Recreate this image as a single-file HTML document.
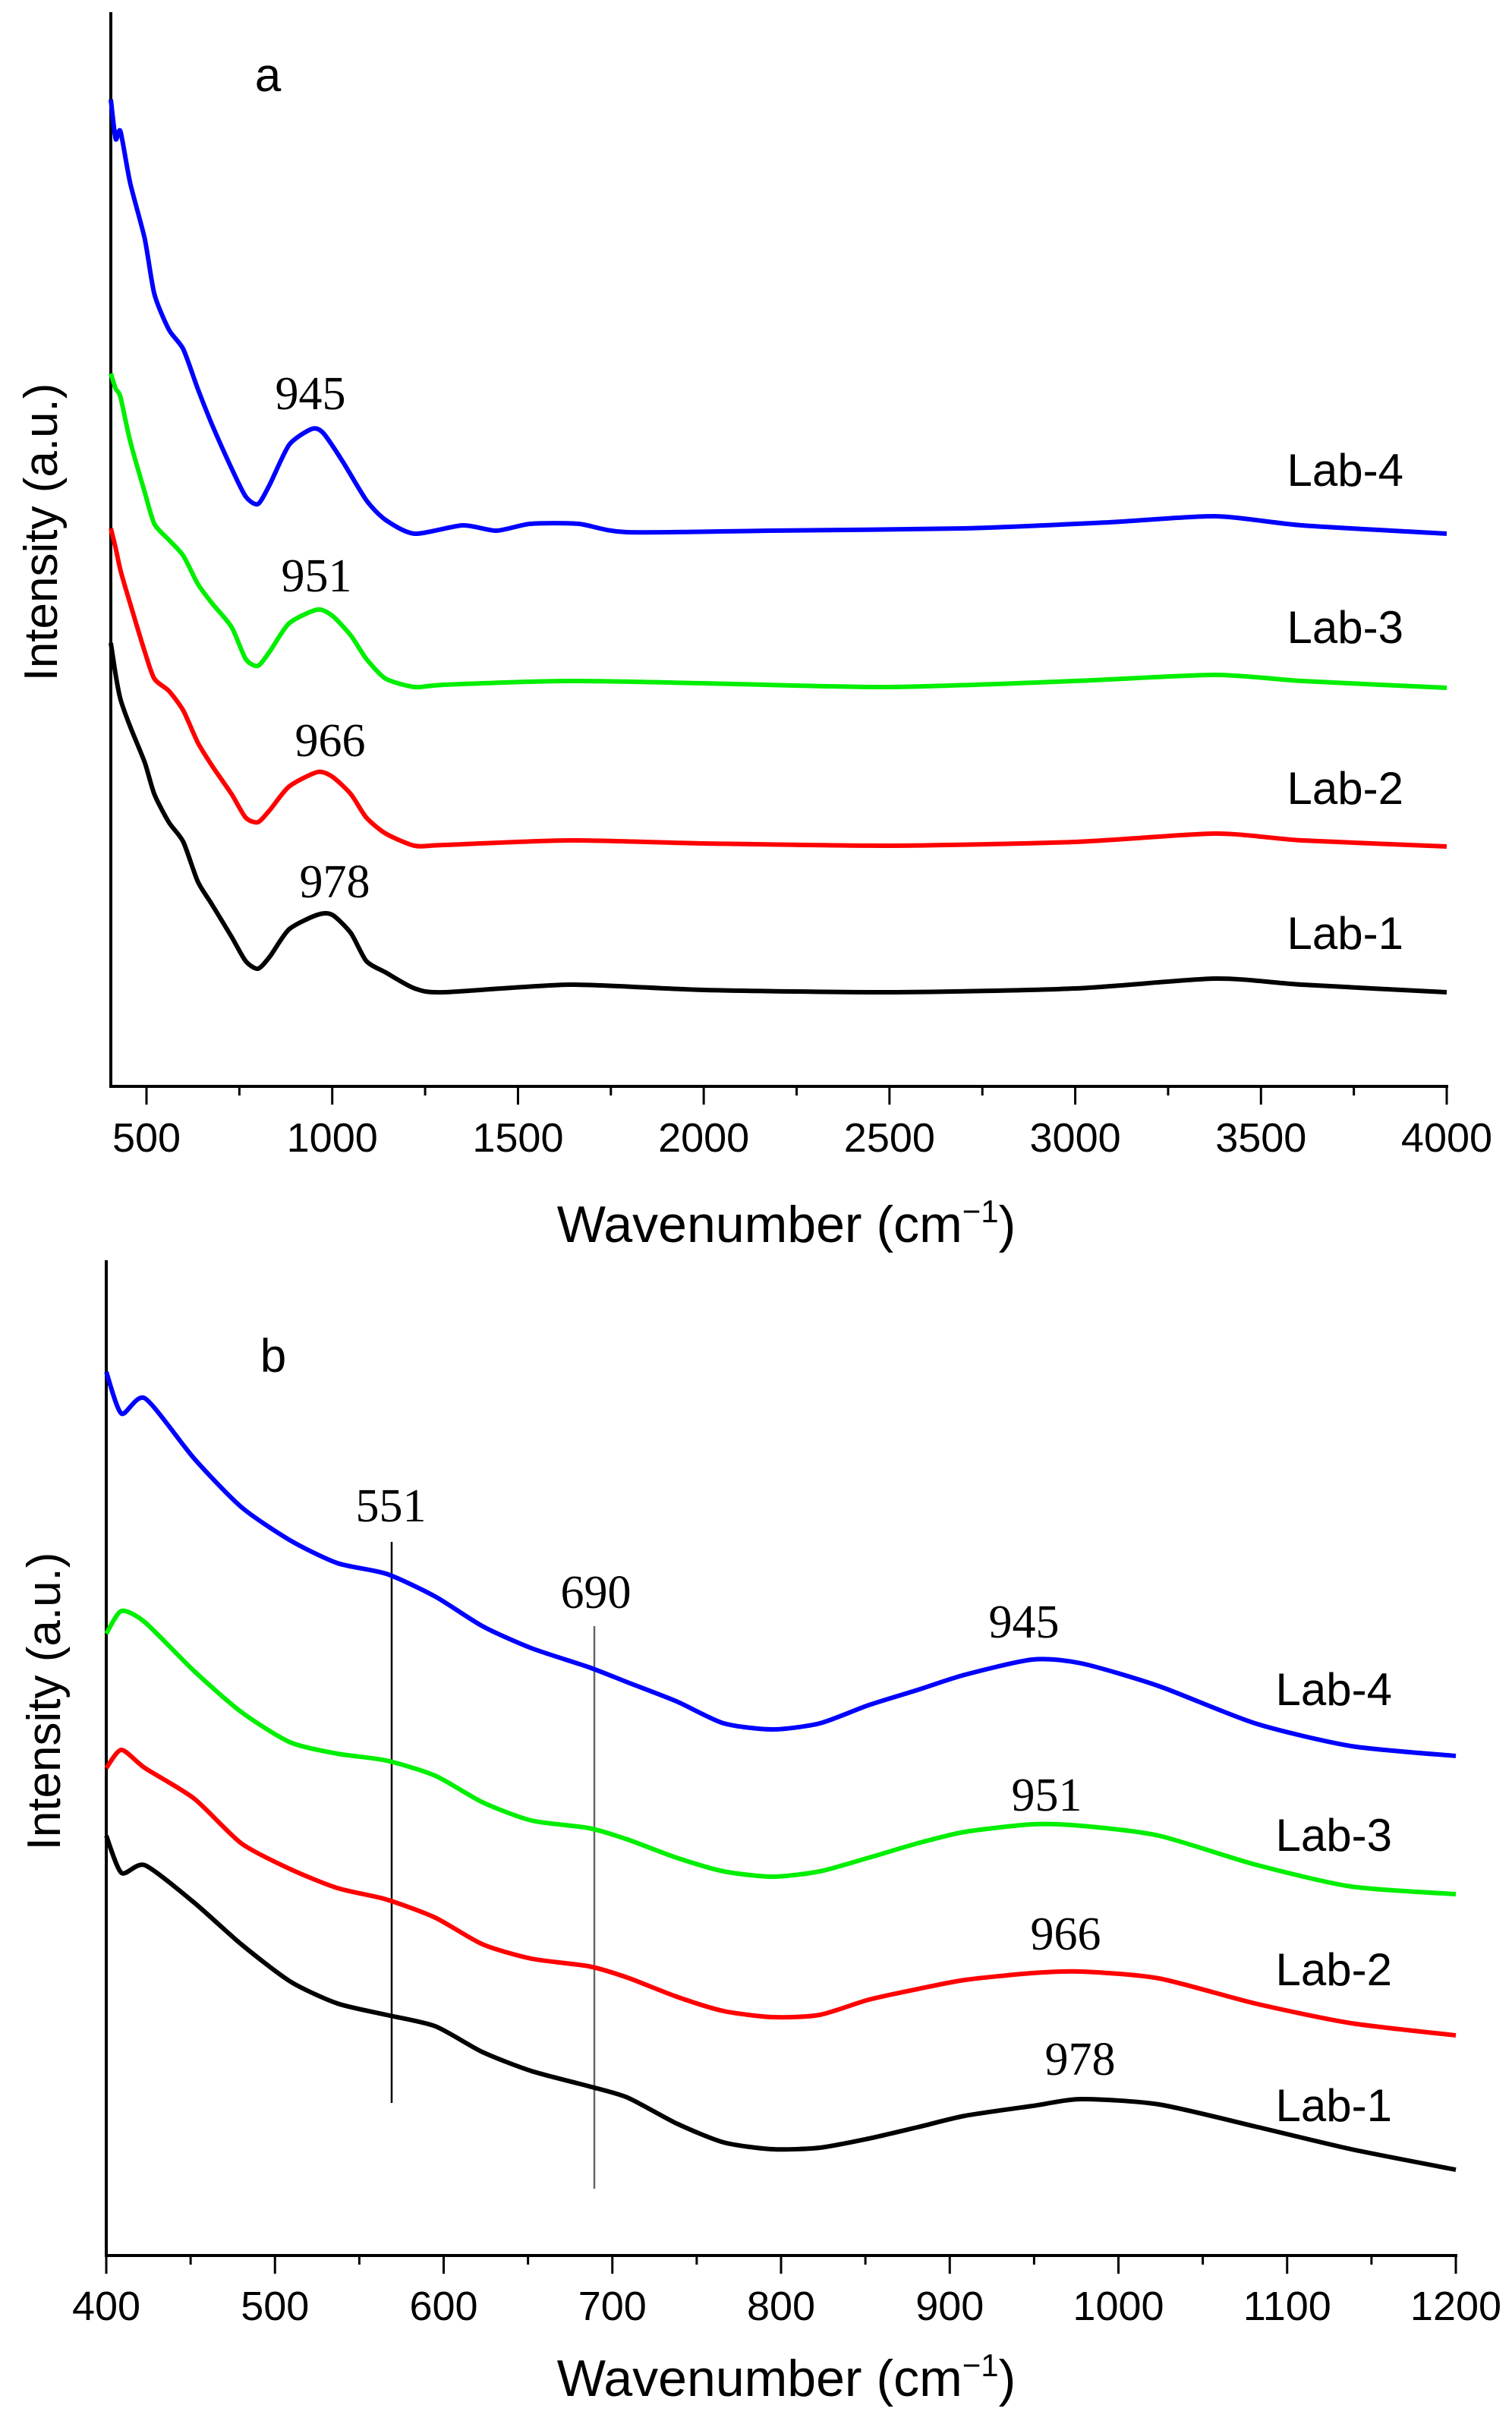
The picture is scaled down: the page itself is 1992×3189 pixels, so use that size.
<!DOCTYPE html>
<html><head><meta charset="utf-8"><style>
body{margin:0;background:#fff}
svg text{font-family:"Liberation Sans",Arial,sans-serif}
.serif{font-family:"Liberation Serif","Times New Roman",serif}
</style></head><body>
<svg id="fig" width="1992" height="3184" viewBox="0 0 1992 3184" xmlns="http://www.w3.org/2000/svg">
<rect width="1992" height="3184" fill="#fff"/>
<g id="chartA"></g>
<g id="chartB"></g>
</svg>
<script>
// ---- Panel a data ----
const aX = [404,417,430,456,495,521,560,599,638,677,729,767,800,832,884,945,975,1027,1092,1144,1222,1351,1442,1533,1663,1793,2182,2701,3091,3376,3610,4000];
const aLab4 = [130.0,124.8,125.8,119.0,111.7,104.4,99.7,97.1,91.9,87.1,81.4,77.7,76.7,79.3,84.5,86.6,86.1,82.4,77.2,74.6,72.8,73.9,73.2,74.1,74.1,73.0,73.2,73.5,74.3,75.1,73.9,72.8];
const aX2 = [404,417,430,456,495,521,560,599,638,677,729,767,800,832,884,960,1000,1050,1092,1144,1222,1300,1640,2000,2500,3000,3376,3610,4000];
const aLab3 = [93.9,91.9,90.8,85.0,78.3,74.1,72.0,69.9,66.2,63.6,60.5,56.3,55.4,57.3,61.0,62.8,62.0,59.4,56.3,53.7,52.6,52.9,53.4,53.1,52.6,53.4,54.2,53.4,52.5];
const aLab2 = [73.5,70.9,68.0,63.6,57.3,53.7,52.1,49.5,45.3,42.2,38.5,35.4,34.8,36.4,39.5,41.4,40.8,38.5,35.4,33.3,31.7,31.8,32.4,32.0,31.7,32.2,33.3,32.4,31.6];
const aLab1 = [58.4,54.2,51.0,47.4,42.7,38.5,34.8,32.2,27.0,23.9,19.7,16.5,15.5,17.1,20.7,22.6,22.6,20.2,16.5,15.0,12.9,12.4,13.4,12.7,12.4,12.9,14.2,13.4,12.4];
const aTicks = [500,1000,1500,2000,2500,3000,3500,4000];
const aPeaks = ["945","951","966","978"];
// ---- Panel b data ----
const bX = [400,409,423,452,480,509,537,566,595,623,652,686,709,738,766,795,823,852,881,909,949,978,1024,1081,1138,1200];
const bLab4 = [116.4,110.9,112.9,105.0,98.6,94.2,91.2,89.8,86.8,82.9,80.0,77.5,75.5,73.0,70.1,69.3,70.1,72.5,74.5,76.5,78.5,78.0,75.0,70.1,67.1,65.8];
const bLab3 = [81.9,84.9,83.4,77.0,71.6,67.6,66.1,65.2,63.2,59.7,57.3,56.3,54.8,52.4,50.6,49.9,50.6,52.4,54.3,55.8,56.8,56.6,55.3,51.5,48.6,47.6];
const bLab2 = [64.2,66.6,64.2,60.2,54.3,50.9,48.4,46.9,44.5,41.0,39.1,38.1,36.6,34.1,32.2,31.4,31.7,33.7,35.1,36.3,37.2,37.4,36.5,33.2,30.6,29.0];
const bLab1 = [55.3,50.4,51.4,46.5,41.0,36.1,33.2,31.7,30.2,26.8,24.3,22.3,20.8,17.4,14.9,14.0,14.2,15.4,16.9,18.4,19.7,20.6,19.9,17.0,14.0,11.3];
const bTicks = [400,500,600,700,800,900,1000,1100,1200];
const bMarkers = [551,690];

const NS="http://www.w3.org/2000/svg";
function el(tag,attrs,parent){const e=document.createElementNS(NS,tag);for(const k in attrs)e.setAttribute(k,attrs[k]);parent.appendChild(e);return e;}
function pathFrom(xs,ys,sx,sy){
  const p=xs.map((x,i)=>[sx(x),sy(ys[i])]);
  let d="M"+p[0][0].toFixed(1)+","+p[0][1].toFixed(1);
  const k=0.12;
  for(let i=0;i<p.length-1;i++){
    const p0=p[Math.max(0,i-1)],p1=p[i],p2=p[i+1],p3=p[Math.min(p.length-1,i+2)];
    const c1=[p1[0]+(p2[0]-p0[0])*k,p1[1]+(p2[1]-p0[1])*k];
    const c2=[p2[0]-(p3[0]-p1[0])*k,p2[1]-(p3[1]-p1[1])*k];
    d+="C"+c1[0].toFixed(1)+","+c1[1].toFixed(1)+" "+c2[0].toFixed(1)+","+c2[1].toFixed(1)+" "+p2[0].toFixed(1)+","+p2[1].toFixed(1);
  }
  return d;
}
function text(parent,str,x,y,size,anchor,cls){const t=el("text",{x:x,y:y,"font-size":size,"text-anchor":anchor||"middle",fill:"#000"},parent);if(cls)t.setAttribute("class",cls);t.textContent=str;return t;}

// ---------- Panel a ----------
(function(){
  const g=document.getElementById("chartA");
  const x0=146, y0=1431, top=16;
  const sx=w=>193+(w-500)*(1906-193)/3500;
  const sy=v=>y0-v*10;
  const ax=el("line",{x1:x0,y1:top,x2:x0,y2:y0+2,stroke:"#000","stroke-width":4},g);
  
  
  const bx=el("line",{x1:x0-2,y1:y0,x2:sx(4000)+2,y2:y0,stroke:"#000","stroke-width":4},g);
  
  
  for(let w=500;w<=4000;w+=250){
    const major=w%500===0;
    const t=el("line",{x1:sx(w),y1:y0,x2:sx(w),y2:y0+(major?24:12),stroke:"#000","stroke-width":3},g);
    
    
  }
  aTicks.forEach(w=>{const t=text(g,String(w),sx(w),1517,54);
    
    });
  const xt=text(g,"",1036,1636,68);
  xt.innerHTML='Wavenumber (cm<tspan dy="-26" font-size="42">−1</tspan><tspan dy="26">)</tspan>';
  
  
  const yt=text(g,"Intensity (a.u.)",0,0,62);
  yt.setAttribute("transform","translate(75,701) rotate(-90)");
  
  
  const lt=text(g,"a",353,120,62);
  
  
  const series=[[aX,aLab4,"#0000ff","Lab-4",640,409,539,"lab-4"],[aX2,aLab3,"#00ee00","Lab-3",847,417,779,"lab-3"],[aX2,aLab2,"#ff0000","Lab-2",1059,435,996,"lab-2"],[aX2,aLab1,"#000000","Lab-1",1250,441,1182,"lab-1"]];
  series.forEach((s,i)=>{
    const p=el("path",{d:pathFrom(s[0],s[1],sx,sy),fill:"none",stroke:s[2],"stroke-width":6,"stroke-linejoin":"round"},g);
    
    
    const l=text(g,s[3],1849,s[4],60,"end");
    
    
    const pk=text(g,aPeaks[i],s[5],s[6],62,"middle","serif");
    
    
  });
})();

// ---------- Panel b ----------
(function(){
  const g=document.getElementById("chartB");
  const x0=140, y0=2971, top=1660;
  const sx=w=>140+(w-400)*(1918-140)/800;
  const sy=v=>y0-v*10;
  const ax=el("line",{x1:x0,y1:top,x2:x0,y2:y0+2,stroke:"#000","stroke-width":4},g);
  
  
  const bx=el("line",{x1:x0-2,y1:y0,x2:sx(1200)+2,y2:y0,stroke:"#000","stroke-width":4},g);
  
  
  for(let w=400;w<=1200;w+=50){
    const major=w%100===0;
    const t=el("line",{x1:sx(w),y1:y0,x2:sx(w),y2:y0+(major?24:12),stroke:"#000","stroke-width":3},g);
    
    
  }
  bTicks.forEach(w=>{const t=text(g,String(w),sx(w),3056,54);
    
    });
  const xt=text(g,"",1036,3156,68);
  xt.innerHTML='Wavenumber (cm<tspan dy="-26" font-size="42">−1</tspan><tspan dy="26">)</tspan>';
  
  
  const yt=text(g,"Intensity (a.u.)",0,0,62);
  yt.setAttribute("transform","translate(79,2241) rotate(-90)");
  
  
  const lt=text(g,"b",360,1807,62);
  
  
  const m1=el("line",{x1:516,y1:2031,x2:516,y2:2770,stroke:"#000","stroke-width":2.5},g);
  
  
  const m2=el("line",{x1:783,y1:2142,x2:783,y2:2883,stroke:"#666","stroke-width":2.5},g);
  
  
  const t1=text(g,String(bMarkers[0]),515,2004,62,"middle","serif");
  
  
  const t2=text(g,String(bMarkers[1]),785,2118,62,"middle","serif");
  
  
  const series=[[bLab4,"#0000ff","Lab-4",2246,1349,2157,"lab-4"],[bLab3,"#00ee00","Lab-3",2438,1379,2385,"lab-3"],[bLab2,"#ff0000","Lab-2",2615,1404,2568,"lab-2"],[bLab1,"#000000","Lab-1",2794,1423,2733,"lab-1"]];
  series.forEach((s,i)=>{
    const p=el("path",{d:pathFrom(bX,s[0],sx,sy),fill:"none",stroke:s[1],"stroke-width":6,"stroke-linejoin":"round"},g);
    
    
    const l=text(g,s[2],1834,s[3],60,"end");
    
    
    const pk=text(g,aPeaks[i],s[4],s[5],62,"middle","serif");
    
    
  });
})();
</script>
</body></html>
